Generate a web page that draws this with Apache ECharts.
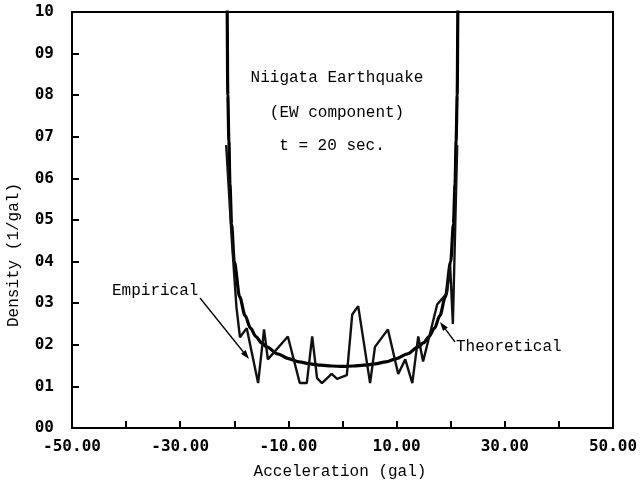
<!DOCTYPE html>
<html>
<head>
<meta charset="utf-8">
<script src="https://cdn.jsdelivr.net/npm/echarts@6/dist/echarts.min.js"></script>
<style>
  html, body { margin: 0; padding: 0; background: #fff; }
  #chart { width: 644px; height: 485px; }
</style>
</head>
<body>
<div id="chart"></div>
<script>
// Acceleration (gal) and density (x100, 1/gal) for the theoretical curve
const theoX = [-21.5, -21.35, -21.2, -21.0, -20.8, -20.5, -20.0, -19.0, -18.0, -17.0, -16.0, -15.0, -14.0, -12.0, -10.0, -8.0, -6.0, -4.0, -2.0, 0.0,
               2.0, 4.0, 6.0, 8.0, 10.0, 12.0, 14.0, 15.0, 16.0, 17.0, 18.0, 19.0, 20.0, 20.5, 20.8, 21.0, 21.2, 21.35, 21.5];
const theoY = [12.0, 10.4, 8.0, 6.9, 5.85, 4.9, 4.0, 3.15, 2.7, 2.4, 2.2, 2.05, 1.95, 1.78, 1.67, 1.59, 1.54, 1.51, 1.49, 1.48,
               1.49, 1.51, 1.54, 1.59, 1.67, 1.78, 1.95, 2.05, 2.2, 2.4, 2.7, 3.15, 4.0, 4.9, 5.85, 6.9, 8.0, 10.4, 12.0];

// Empirical histogram density (x100, 1/gal)
const empX = [-21.5, -20.5, -19.6, -18.95, -17.7, -15.6, -14.5, -13.8, -10.1, -7.9, -6.6, -5.6, -4.7, -3.8, -2.0, -1.0, 0.8,
              1.8, 2.9, 5.1, 6.0, 8.4, 10.3, 11.6, 12.9, 14.0, 14.9, 17.5, 19.3, 19.9, 20.4, 21.2];
const empY = [6.8, 4.6, 2.9, 2.18, 2.4, 1.08, 2.37, 1.65, 2.2, 1.08, 1.08, 2.2, 1.2, 1.08, 1.3, 1.18, 1.27,
              2.73, 2.93, 1.08, 1.95, 2.37, 1.3, 1.65, 1.08, 2.2, 1.6, 2.97, 3.24, 3.9, 2.5, 6.8];

const xTicks = [-50, -30, -10, 10, 30, 50];
const yTickLabels = ['00', '01', '02', '03', '04', '05', '06', '07', '08', '09', '10'];

const axisFont = { fontFamily: 'DejaVu Sans Mono', fontWeight: 'bold', fontSize: 16, color: '#000' };
const textFont = 'Liberation Mono';

const chart = echarts.init(document.getElementById('chart'), null, { renderer: 'canvas' });

function zip(xs, ys) { return xs.map((x, i) => [x, ys[i]]); }

chart.setOption({
  animation: false,
  backgroundColor: '#fff',
  grid: { left: 72, right: 31, top: 12, bottom: 57, show: true, borderColor: '#000', borderWidth: 2, backgroundColor: 'transparent' },
  xAxis: {
    type: 'value', min: -50, max: 50, interval: 10,
    axisLine: { onZero: false, lineStyle: { color: '#000', width: 2 } },
    axisTick: { inside: true, length: 7, lineStyle: { color: '#000', width: 2 } },
    splitLine: { show: false },
    axisLabel: Object.assign({
      margin: 11,
      formatter: v => (xTicks.indexOf(v) >= 0 ? v.toFixed(2) : '')
    }, axisFont)
  },
  yAxis: {
    type: 'value', min: 0, max: 10, interval: 1,
    axisLine: { onZero: false, lineStyle: { color: '#000', width: 2 } },
    axisTick: { inside: true, length: 7, lineStyle: { color: '#000', width: 2 } },
    splitLine: { show: false },
    axisLabel: Object.assign({
      margin: 18,
      formatter: v => yTickLabels[Math.round(v)]
    }, axisFont)
  },
  series: [
    {
      name: 'Theoretical', type: 'line', data: zip(theoX, theoY),
      showSymbol: false, smooth: 0.3, smoothMonotone: 'x', clip: true,
      lineStyle: { color: '#000', width: 3.2 }
    },
    {
      name: 'Empirical', type: 'line', data: zip(empX, empY),
      showSymbol: false, clip: true,
      lineStyle: { color: '#111', width: 2.4 }
    }
  ]
});

// Annotation arrows with a filled head
function arrow(x1, y1, x2, y2) {
  const a = Math.atan2(y2 - y1, x2 - x1);
  const L = 9, W = 3;
  const bx = x2 - L * Math.cos(a), by = y2 - L * Math.sin(a);
  return [
    { type: 'polyline', shape: { points: [[x1, y1], [bx, by]] }, style: { stroke: '#000', lineWidth: 1.3 } },
    { type: 'polygon', shape: { points: [[x2, y2], [bx + W * Math.sin(a), by - W * Math.cos(a)], [bx - W * Math.sin(a), by + W * Math.cos(a)]] }, style: { fill: '#000' } }
  ];
}

function label(text, x, y, align, rotation) {
  return {
    type: 'text', x: x, y: y, rotation: rotation || 0,
    style: { text: text, font: '16px "' + textFont + '"', fill: '#000', align: align || 'center', verticalAlign: 'middle' }
  };
}

chart.setOption({
  graphic: [
    label('Niigata Earthquake', 337, 78),
    label('(EW component)', 337, 113),
    label('t = 20 sec.', 332, 146),
    label('Empirical', 112, 291, 'left'),
    label('Theoretical', 456, 347, 'left'),
    label('Acceleration (gal)', 340, 472),
    label('Density (1/gal)', 14, 255, 'center', Math.PI / 2)
  ].concat(arrow(200, 298, 249, 359), arrow(455, 342, 440, 322))
});
</script>
</body>
</html>
